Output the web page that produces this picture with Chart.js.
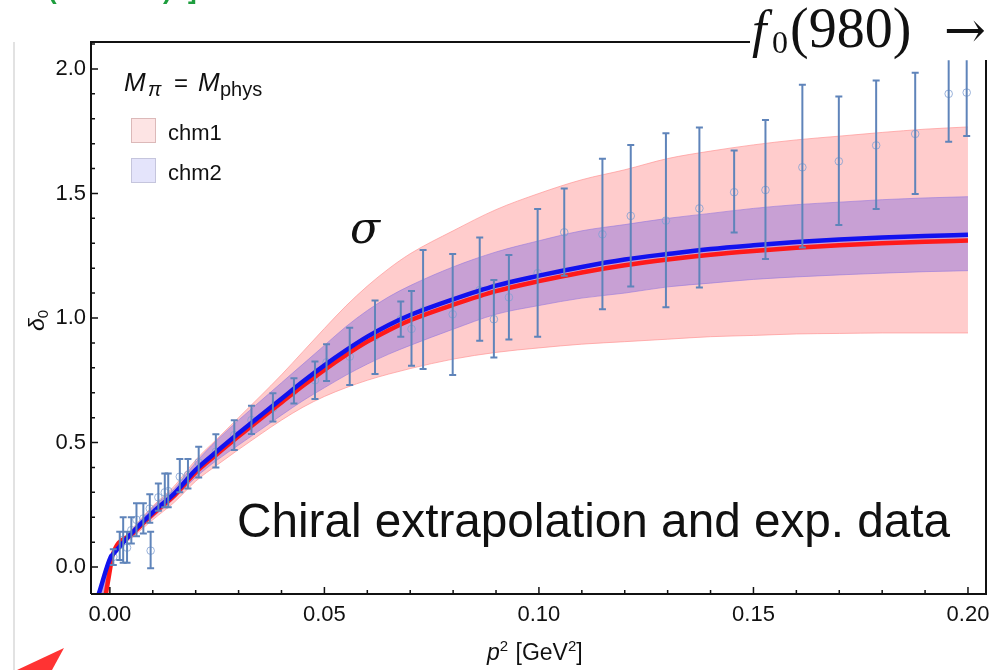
<!DOCTYPE html>
<html>
<head>
<meta charset="utf-8">
<script src="https://cdn.jsdelivr.net/npm/chart.js@4.4.0/dist/chart.umd.min.js"></script>
<style>
  html, body { margin: 0; padding: 0; background: #fff; }
  #wrap { position: relative; width: 1003px; height: 670px; }
</style>
</head>
<body>
<div id="wrap"><canvas id="phaseChart"></canvas></div>
<script>
// p^2 grid for the chiral curves [GeV^2]
const curveX = [-0.0026, 0.0002, 0.0005, 0.005, 0.01, 0.015, 0.02, 0.025, 0.03, 0.035,
  0.04, 0.045, 0.05, 0.055, 0.06, 0.065, 0.07, 0.08, 0.09, 0.10,
  0.11, 0.12, 0.13, 0.14, 0.15, 0.16, 0.17, 0.18, 0.19, 0.20];
// chm1 (red) central curve and band
const chm1Central = [-0.28, 0.009, 0.041, 0.13, 0.213, 0.287, 0.38, 0.454, 0.525, 0.594,
  0.661, 0.728, 0.792, 0.851, 0.905, 0.951, 0.991, 1.053, 1.108, 1.148,
  1.183, 1.212, 1.235, 1.254, 1.269, 1.282, 1.292, 1.3, 1.306, 1.311];
const chm1Low = [-0.3, 0.0, 0.03, 0.115, 0.19, 0.26, 0.345, 0.41, 0.472, 0.532,
  0.59, 0.642, 0.685, 0.72, 0.75, 0.775, 0.797, 0.835, 0.862, 0.88,
  0.895, 0.905, 0.915, 0.925, 0.93, 0.936, 0.938, 0.94, 0.94, 0.94];
const chm1High = [-0.1, 0.05, 0.06, 0.15, 0.245, 0.325, 0.43, 0.515, 0.6, 0.685,
  0.772, 0.865, 0.958, 1.048, 1.128, 1.198, 1.258, 1.35, 1.435, 1.5,
  1.555, 1.595, 1.64, 1.67, 1.695, 1.715, 1.73, 1.745, 1.758, 1.767];
// chm2 (blue) central curve and band
const chm2Central = [-0.108, 0.041, 0.047, 0.135, 0.22, 0.295, 0.39, 0.465, 0.537, 0.607,
  0.676, 0.745, 0.81, 0.87, 0.925, 0.972, 1.012, 1.075, 1.13, 1.17,
  1.205, 1.235, 1.257, 1.277, 1.292, 1.305, 1.315, 1.323, 1.329, 1.334];
const chm2Low = [-0.25, 0.035, 0.04, 0.125, 0.2, 0.275, 0.36, 0.43, 0.49, 0.55,
  0.61, 0.668, 0.72, 0.77, 0.815, 0.855, 0.89, 0.955, 1.015, 1.05,
  1.08, 1.10, 1.125, 1.14, 1.155, 1.165, 1.173, 1.18, 1.186, 1.19];
const chm2High = [-0.1, 0.046, 0.052, 0.145, 0.24, 0.315, 0.42, 0.51, 0.59, 0.665,
  0.74, 0.815, 0.89, 0.965, 1.03, 1.085, 1.13, 1.205, 1.265, 1.31,
  1.35, 1.375, 1.40, 1.42, 1.44, 1.455, 1.465, 1.475, 1.482, 1.487];

// experimental phase shift points with error bars
const dataX = [0.0008, 0.0023, 0.0031, 0.0040, 0.0050, 0.0062, 0.0078, 0.0093, 0.0095, 0.0113,
  0.0128, 0.0136, 0.0163, 0.0182, 0.0207, 0.0247, 0.0290, 0.0330, 0.0380, 0.0429,
  0.0478, 0.0505, 0.0559, 0.0618, 0.0678, 0.0703, 0.0730, 0.0799, 0.0862, 0.0895,
  0.0930, 0.0997, 0.1059, 0.1148, 0.1214, 0.1296, 0.1374, 0.1455, 0.1528, 0.1614,
  0.1699, 0.1786, 0.1877, 0.1955, 0.1997];
const dataY = [0.041, 0.088, 0.11, 0.078, 0.148, 0.19, 0.195, 0.235, 0.066, 0.28,
  0.30, 0.305, 0.363, 0.37, 0.42, 0.463, 0.53, 0.59, 0.637, 0.707,
  0.75, 0.822, 0.845, 0.925, 0.995, 0.956, 1.03, 1.015, 1.112, 0.995,
  1.083, 1.18, 1.344, 1.336, 1.41, 1.391, 1.44, 1.505, 1.514, 1.605,
  1.629, 1.693, 1.739, 1.90, 1.905];
const dataLow = [0.008, 0.028, 0.017, 0.017, 0.095, 0.124, 0.135, 0.178, -0.005, 0.226,
  0.24, 0.24, 0.30, 0.316, 0.36, 0.40, 0.47, 0.534, 0.584, 0.657,
  0.675, 0.747, 0.731, 0.775, 0.925, 0.808, 0.795, 0.771, 0.909, 0.841,
  0.914, 0.925, 1.17, 1.035, 1.126, 1.043, 1.122, 1.343, 1.237, 1.283,
  1.373, 1.438, 1.498, 1.708, 1.731];
const dataHigh = [0.072, 0.142, 0.20, 0.142, 0.20, 0.256, 0.256, 0.292, 0.142, 0.336,
  0.376, 0.376, 0.434, 0.434, 0.483, 0.533, 0.59, 0.648, 0.698, 0.758,
  0.825, 0.895, 0.961, 1.07, 1.066, 1.108, 1.273, 1.257, 1.323, 1.153,
  1.253, 1.438, 1.52, 1.639, 1.695, 1.742, 1.765, 1.672, 1.795, 1.936,
  1.889, 1.953, 1.985, 2.09, 2.08];

const xTicks = [0, 0.05, 0.1, 0.15, 0.2];
const yTicks = [0, 0.5, 1, 1.5, 2];

const xMin = -0.0044, xMax = 0.2042;
const yMin = -0.108, yMax = 2.108;
const barClip = 2.035; // error bars are cut a bit below the frame top

const sans = "'Liberation Sans', Arial, sans-serif";
const serif = "'Liberation Serif', 'DejaVu Serif', serif";
const ink = "#111";

const pairs = (xs, ys) => xs.map((x, i) => ({ x: x, y: ys[i] }));

// draws text pieces one after another (for sub/superscripts)
const drawRuns = (ctx, x, y, runs) => {
  let cx = x;
  runs.forEach((r) => {
    ctx.font = r.font;
    ctx.fillText(r.text, cx, y + (r.dy || 0));
    cx += ctx.measureText(r.text).width + (r.gap || 0);
  });
};

const decorPlugin = {
  id: "decor",
  afterDatasetsDraw(chart) {
    const ctx = chart.ctx;
    const xs = chart.scales.x;
    const ys = chart.scales.y;
    const area = chart.chartArea;
    const clipTop = ys.getPixelForValue(barClip);
    ctx.save();
    ctx.beginPath();
    ctx.rect(area.left, clipTop, area.right - area.left, area.bottom - clipTop);
    ctx.clip();
    ctx.strokeStyle = "#5f84ba";
    ctx.lineWidth = 2;
    dataX.forEach((x, i) => {
      const px = xs.getPixelForValue(x);
      const top = ys.getPixelForValue(dataHigh[i]);
      const bot = ys.getPixelForValue(dataLow[i]);
      ctx.beginPath();
      ctx.moveTo(px, top);
      ctx.lineTo(px, bot);
      ctx.moveTo(px - 3.5, top);
      ctx.lineTo(px + 3.5, top);
      ctx.moveTo(px - 3.5, bot);
      ctx.lineTo(px + 3.5, bot);
      ctx.stroke();
    });
    ctx.restore();
  },
  afterDraw(chart) {
    const ctx = chart.ctx;
    const xs = chart.scales.x;
    const ys = chart.scales.y;
    const a = chart.chartArea;
    ctx.save();

    // frame (top edge stops at the f0 label)
    ctx.strokeStyle = ink;
    ctx.lineWidth = 2;
    ctx.beginPath();
    ctx.moveTo(a.left, a.bottom);
    ctx.lineTo(a.left, a.top);
    ctx.lineTo(750, a.top);
    ctx.moveTo(a.left, a.bottom);
    ctx.lineTo(a.right, a.bottom);
    ctx.lineTo(a.right, 60);
    ctx.stroke();

    // inside ticks
    ctx.lineWidth = 1.5;
    ctx.beginPath();
    for (let k = 0; k <= 20; k++) {
      const v = k * 0.01;
      const px = xs.getPixelForValue(v);
      const len = k % 5 === 0 ? 7 : 4;
      ctx.moveTo(px, a.bottom);
      ctx.lineTo(px, a.bottom - len);
    }
    for (let k = 0; k <= 21; k++) {
      const v = k * 0.1;
      const py = ys.getPixelForValue(v);
      const len = k % 5 === 0 ? 7 : 4;
      ctx.moveTo(a.left, py);
      ctx.lineTo(a.left + len, py);
    }
    ctx.stroke();

    // legend
    ctx.fillStyle = ink;
    ctx.textBaseline = "alphabetic";
    ctx.textAlign = "left";
    ctx.font = "italic 26px " + sans;
    ctx.fillText("M", 124, 91);
    ctx.font = "italic 20px " + sans;
    ctx.fillText("\u03C0", 148, 96);
    ctx.font = "24px " + sans;
    ctx.fillText("=", 174, 91);
    ctx.font = "italic 26px " + sans;
    ctx.fillText("M", 198, 91);
    ctx.font = "20px " + sans;
    ctx.fillText("phys", 220, 96);

    ctx.lineWidth = 1;
    ctx.fillStyle = "#fde4e4";
    ctx.strokeStyle = "#dcb9b9";
    ctx.fillRect(131, 118, 24, 24);
    ctx.strokeRect(131.5, 118.5, 24, 24);
    ctx.fillStyle = "#e4e4fb";
    ctx.strokeStyle = "#c5c5dd";
    ctx.fillRect(131, 158, 24, 24);
    ctx.strokeRect(131.5, 158.5, 24, 24);
    ctx.fillStyle = ink;
    ctx.font = "22px " + sans;
    ctx.fillText("chm1", 168, 140);
    ctx.fillText("chm2", 168, 180);

    // sigma label
    ctx.font = "italic 44px 'DejaVu Serif', serif";
    ctx.fillText("\u03C3", 350, 243);

    // big caption
    ctx.font = "47.7px " + sans;
    ctx.fillText("Chiral extrapolation and exp. data", 237, 537);

    // f0(980) arrow label
    ctx.font = "italic 52px " + serif;
    ctx.fillText("f", 752, 47);
    ctx.font = "32px " + serif;
    ctx.fillText("0", 772, 53);
    ctx.font = "56px " + serif;
    ctx.fillText("(980)", 790, 47);
    ctx.font = "50px 'DejaVu Serif', serif";
    ctx.fillText("\u2192", 944, 47);

    // axis titles
    drawRuns(ctx, 487, 660, [
      { text: "p", font: "italic 23px " + sans },
      { text: "2", font: "15px " + sans, dy: -9, gap: 1 },
      { text: " [GeV", font: "23px " + sans },
      { text: "2", font: "15px " + sans, dy: -9 },
      { text: "]", font: "23px " + sans }
    ]);
    ctx.save();
    ctx.translate(44, 331);
    ctx.rotate(-Math.PI / 2);
    drawRuns(ctx, 0, 0, [
      { text: "\u03B4", font: "italic 23px " + sans },
      { text: "0", font: "15px " + sans, dy: 4 }
    ]);
    ctx.restore();

    // bits of the surrounding page
    ctx.strokeStyle = "#e2e2e2";
    ctx.lineWidth = 2;
    ctx.beginPath();
    ctx.moveTo(14, 42);
    ctx.lineTo(14, 670);
    ctx.stroke();
    ctx.fillStyle = "#ff3333";
    ctx.beginPath();
    ctx.moveTo(17, 670);
    ctx.lineTo(64, 648);
    ctx.lineTo(52, 670);
    ctx.closePath();
    ctx.fill();
    ctx.fillStyle = "#1e9e3e";
    ctx.font = "bold 26px " + sans;
    ctx.fillText("(", 48, -1);
    ctx.fillText(")", 163, -1);
    ctx.fillText("]", 188, -1);

    ctx.restore();
  }
};

const lineStyle = { pointRadius: 0, cubicInterpolationMode: "monotone", fill: false };

new Chart(document.getElementById("phaseChart"), {
  type: "line",
  data: {
    datasets: [
      { ...lineStyle, label: "chm2", data: pairs(curveX, chm2Central), borderColor: "#1212ee", borderWidth: 4.5, order: 1 },
      { ...lineStyle, label: "chm1", data: pairs(curveX, chm1Central), borderColor: "#ff1a1a", borderWidth: 4.5, order: 2 },
      { label: "data", data: pairs(dataX, dataY), showLine: false, pointRadius: 3.8, pointStyle: "circle",
        pointBorderColor: "rgba(130,160,210,0.8)", pointBackgroundColor: "rgba(0,0,0,0)", pointBorderWidth: 1, order: 3 },
      { ...lineStyle, label: "chm2 low", data: pairs(curveX, chm2Low), borderColor: "rgba(150,120,220,0.6)", borderWidth: 1, order: 4 },
      { ...lineStyle, label: "chm2 high", data: pairs(curveX, chm2High), borderColor: "rgba(150,120,220,0.6)", borderWidth: 1,
        fill: "-1", backgroundColor: "rgba(118,94,226,0.4)", order: 4 },
      { ...lineStyle, label: "chm1 low", data: pairs(curveX, chm1Low), borderColor: "rgba(255,150,150,0.7)", borderWidth: 1, order: 5 },
      { ...lineStyle, label: "chm1 high", data: pairs(curveX, chm1High), borderColor: "rgba(255,150,150,0.7)", borderWidth: 1,
        fill: "-1", backgroundColor: "rgba(255,110,110,0.35)", order: 5 }
    ]
  },
  options: {
    responsive: true,
    maintainAspectRatio: false,
    animation: false,
    devicePixelRatio: 1,
    layout: { padding: { top: 42, right: 17, left: 0, bottom: 0 } },
    plugins: { legend: { display: false }, tooltip: { enabled: false } },
    scales: {
      x: {
        type: "linear",
        min: xMin,
        max: xMax,
        border: { display: false },
        grid: { display: false, drawTicks: false },
        afterBuildTicks: (s) => { s.ticks = xTicks.map((v) => ({ value: v })); },
        afterFit: (s) => { s.height = 76; },
        ticks: { padding: 8, maxRotation: 0, color: ink, font: { family: sans, size: 22 },
          callback: (v) => v.toFixed(2) }
      },
      y: {
        type: "linear",
        min: yMin,
        max: yMax,
        border: { display: false },
        grid: { display: false, drawTicks: false },
        afterBuildTicks: (s) => { s.ticks = yTicks.map((v) => ({ value: v })); },
        afterFit: (s) => { s.width = 91; },
        ticks: { padding: 5, color: ink, font: { family: sans, size: 22 },
          callback: (v) => v.toFixed(1) }
      }
    }
  },
  plugins: [decorPlugin]
});
</script>
</body>
</html>
